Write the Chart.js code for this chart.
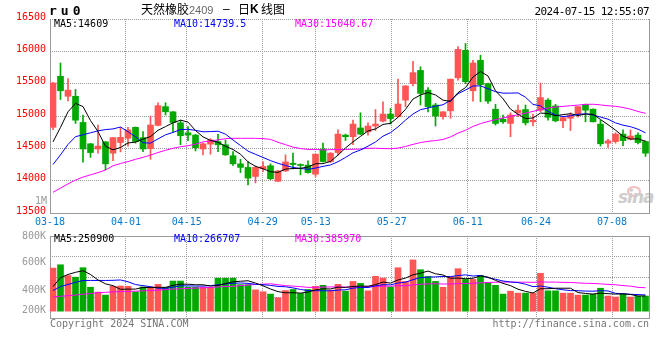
<!DOCTYPE html>
<html><head><meta charset="utf-8">
<script src="https://cdn.jsdelivr.net/npm/chart.js@4.4.1/dist/chart.umd.min.js"></script>
<style>
html,body{margin:0;padding:0;background:#fff;}
#wrap{position:relative;width:660px;height:360px;overflow:hidden;background:#fff;}
canvas{position:absolute;left:0;}
.m{position:absolute;white-space:pre;font-family:'DejaVu Sans Mono',monospace;font-size:10px;line-height:12px;}
.c{position:absolute;white-space:pre;font-family:'Noto Sans CJK SC',sans-serif;font-size:12px;line-height:14px;color:#000;}
</style></head><body>
<div id="wrap">
<div style="position:absolute;left:627px;top:186px;width:10px;height:7px;border:2px solid #f4bcbc;border-radius:50%;"></div>
<div style="position:absolute;left:618px;top:188px;font:italic bold 17px 'DejaVu Sans';color:#cdcdcd;letter-spacing:-1px;line-height:18px;">sina</div>
<canvas id="pc" width="660" height="232" style="top:0"></canvas>
<canvas id="vc" width="660" height="134" style="top:226px"></canvas>

<div class="m" style="left:49px;top:4px;font-size:13px;line-height:14px;font-weight:bold;letter-spacing:4px;">ru0</div>
<div class="c" style="left:141px;top:2px;">天然橡胶</div>
<div style="position:absolute;left:189px;top:3px;font:11px 'Liberation Sans';line-height:14px;color:#666;">2409</div>
<div style="position:absolute;left:223px;top:2px;font:12px 'Liberation Sans';line-height:14px;color:#000;">–</div>
<div class="c" style="left:238px;top:2px;">日</div>
<div style="position:absolute;left:250px;top:2px;font:bold 12px 'Liberation Sans';line-height:14px;color:#000;">K</div>
<div class="c" style="left:261px;top:2px;">线图</div>
<div class="m" style="right:11px;top:6px;font-size:11px;letter-spacing:-0.6px;color:#000;">2024-07-15 12:55:07</div>

<div class="m" id="lp0" style="left:54px;top:18px;color:#000;"></div>
<div class="m" id="lp1" style="left:174px;top:18px;color:#0000ff;"></div>
<div class="m" id="lp2" style="left:295px;top:18px;color:#ff00ff;"></div>
<div class="m" style="right:613px;top:195px;color:#999;">1M</div>

<div class="m" id="lv0" style="left:54px;top:233px;color:#000;"></div>
<div class="m" id="lv1" style="left:174px;top:233px;color:#0000ff;"></div>
<div class="m" id="lv2" style="left:295px;top:233px;color:#ff00ff;"></div>

<div class="m" style="left:50px;top:318px;color:#777;">Copyright 2024 SINA.COM</div>
<div class="m" style="right:11px;top:318px;color:#777;">http://finance.sina.com.cn</div>
</div>
<script>
// ---------------- data ----------------
const categories = ['03-18','03-19','03-20','03-21','03-22','03-25','03-26','03-27','03-28','03-29',
 '04-01','04-02','04-03','04-08','04-09','04-10','04-11','04-12','04-15','04-16','04-17','04-18','04-19','04-22','04-23','04-24','04-25','04-26','04-29','04-30',
 '05-06','05-07','05-08','05-09','05-10','05-13','05-14','05-15','05-16','05-17','05-20','05-21','05-22','05-23','05-24','05-27','05-28','05-29','05-30','05-31',
 '06-03','06-04','06-05','06-06','06-07','06-11','06-12','06-13','06-14','06-17','06-18','06-19','06-20','06-21','06-24','06-25','06-26','06-27','06-28',
 '07-01','07-02','07-03','07-04','07-05','07-08','07-09','07-10','07-11','07-12','07-15'];
const dateLabels = ['03-18','04-01','04-15','04-29','05-13','05-27','06-11','06-24','07-08'];
const priceTickStep = 500;
const priceMin = 13500, priceMax = 16500;
const volTickLabels = ['200K','400K','600K','800K'];
const priceLegend = ['MA5:14609','MA10:14739.5','MA30:15040.67'];
const volLegend = ['MA5:250900','MA10:266707','MA30:385970'];

const openP = [14825,15615,15305,15305,14900,14570,14490,14600,14425,14590,
 14655,14825,14665,14495,14855,15145,15065,14895,14740,14705,
 14490,14565,14605,14555,14385,14260,14205,14065,14185,14230,
 13990,14150,14270,14250,14240,14100,14490,14295,14435,14705,
 14680,14815,14755,14845,14920,15030,14990,15245,15500,15705,
 15400,15170,14990,15080,15590,16015,15390,15860,15500,15105,
 14950,14885,15050,15100,14910,15090,15245,15155,14925,14965,
 15030,15180,15105,14875,14580,14605,14720,14640,14705,14605];
const highP = [15520,15820,15580,15410,15015,14575,14860,14605,14670,14825,
 14825,14830,14760,15000,15205,15205,15070,14935,14835,14715,
 14580,14650,14715,14630,14450,14330,14295,14230,14290,14260,
 14160,14400,14425,14260,14305,14410,14580,14435,14785,14720,
 14935,15050,14895,15100,15220,15115,15570,15470,15845,15760,
 15440,15195,15070,15570,16075,16120,15860,15940,15510,15180,
 15015,15050,15170,15170,15030,15510,15270,15180,14975,15050,
 15145,15185,15110,14935,14640,14740,14785,14785,14740,14615];
const lowP = [14790,15255,15235,14885,14285,14360,14425,14165,14310,14445,
 14535,14580,14450,14330,14845,15015,14750,14555,14620,14460,
 14400,14410,14450,14390,14235,14125,13935,13965,14140,14015,
 13985,14140,14180,14090,14115,14065,14285,14280,14400,14620,
 14555,14710,14705,14775,14910,14875,14980,15145,15465,15170,
 15065,14845,14950,14965,15555,15500,15230,15220,15195,14860,
 14885,14680,14990,14860,14845,15065,14935,14910,14820,14775,
 14980,14910,14910,14535,14515,14580,14540,14630,14570,14375];
const closeP = [15510,15390,15400,14935,14490,14435,14535,14260,14665,14670,
 14785,14605,14490,14860,15160,15065,14900,14695,14705,14510,
 14570,14630,14555,14400,14260,14205,14040,14205,14220,14030,
 14150,14290,14250,14235,14125,14410,14295,14425,14720,14680,
 14875,14720,14845,14875,15030,14960,15185,15465,15670,15350,
 15145,15000,15065,15570,16030,15530,15820,15485,15230,14885,
 14910,15015,15090,14895,14935,15285,14980,14925,14975,15015,
 15145,15090,14910,14570,14615,14720,14620,14690,14590,14425];
const ma5 = [14600,14825,15065,15195,15146,14930,14760,14532,14477,14513,
 14583,14596,14643,14682,14779,14836,14895,14936,14906,14776,
 14677,14622,14594,14532,14482,14409,14291,14221,14185,14139,
 14128,14179,14188,14191,14211,14262,14263,14298,14395,14506,
 14600,14685,14769,14800,14870,14886,14979,15103,15262,15325,
 15362,15325,15245,15225,15362,15439,15603,15687,15619,15390,
 15267,15106,15027,14960,14970,15045,15038,15005,15021,15036,
 15007,15030,15027,14946,14866,14782,14687,14643,14647,14609];
const ma10 = [14250,14400,14560,14680,14710,14740,14770,14790,14800,14830,
 14757,14678,14587,14580,14646,14709,14746,14790,14794,14778,
 14756,14759,14765,14719,14629,14543,14457,14407,14359,14310,
 14269,14235,14205,14188,14175,14195,14221,14243,14293,14359,
 14431,14474,14534,14598,14688,14743,14832,14936,15031,15098,
 15124,15152,15174,15243,15344,15401,15464,15466,15422,15376,
 15353,15354,15357,15290,15180,15156,15072,15016,14990,15003,
 15026,15034,15016,14983,14951,14894,14858,14835,14796,14740];
const ma30 = [13820,13885,13950,14010,14055,14090,14125,14165,14230,14265,
 14295,14330,14360,14395,14435,14470,14500,14525,14540,14565,
 14600,14615,14630,14650,14655,14655,14655,14655,14650,14639,
 14594,14557,14519,14496,14483,14483,14474,14480,14482,14482,
 14485,14489,14501,14502,14497,14494,14503,14529,14561,14589,
 14608,14620,14637,14676,14735,14780,14839,14882,14915,14944,
 14969,14993,15021,15044,15071,15100,15123,15139,15148,15159,
 15168,15180,15182,15172,15158,15150,15132,15106,15070,15041];
// volume in thousands of lots
const volume = [710,764,587,560,716,394,314,265,410,415,
 410,319,399,399,442,394,496,496,394,394,
 394,394,544,544,544,437,437,351,319,281,
 222,340,357,292,357,410,426,346,442,330,
 490,458,335,574,544,399,716,490,844,683,
 571,490,394,571,699,523,523,587,474,426,
 281,330,297,297,297,624,335,335,297,297,
 265,265,281,378,249,233,281,233,249,249];
const vma5 = [405,550,605,640,667,604,514,450,420,360,
 363,364,391,388,394,391,426,445,444,435,
 435,414,424,454,484,493,501,463,418,365,
 322,303,304,298,314,351,368,366,396,391,
 407,413,411,437,480,462,514,545,599,626,
 661,616,596,542,545,535,542,581,561,507,
 458,420,362,326,300,369,370,378,378,378,
 306,292,281,297,288,281,284,275,249,251];
const vma10 = [340,405,440,475,505,506,506,506,508,514,
 484,439,420,404,377,377,395,418,416,414,
 413,420,435,449,459,464,458,443,436,425,
 407,402,383,358,339,337,336,335,347,352,
 379,391,389,417,436,434,463,478,518,553,
 561,565,571,570,586,598,579,589,552,526,
 497,481,471,444,404,414,395,370,352,339,
 337,331,329,337,333,294,288,278,273,267];
const vma30 = [235,245,255,265,280,290,305,310,318,322,
 325,330,335,340,345,355,365,370,375,380,
 385,390,400,405,410,420,430,440,445,451,
 435,420,413,404,392,392,396,399,400,397,
 400,404,402,408,411,412,419,419,434,443,
 449,452,447,448,454,456,459,467,472,477,
 479,479,477,477,475,482,479,479,474,473,
 465,459,457,450,441,435,421,412,392,386];

// ---------------- style / layout ----------------
const RED = '#ff5555', GREEN = '#00a800';
const GRID = '#9a9a9a', BORDER = '#999999';
Chart.defaults.font.family = "'DejaVu Sans Mono', monospace";
Chart.defaults.font.size = 10;

['lp0','lp1','lp2'].forEach((id,k)=>document.getElementById(id).textContent = priceLegend[k]);
['lv0','lv1','lv2'].forEach((id,k)=>document.getElementById(id).textContent = volLegend[k]);

const N = categories.length;
const PX = 7.5;                 // pixels per trading day
const xMin = -0.4, xMax = xMin + 599 / PX;
// Sina places date grid lines on a slightly different pitch than the candles
const gridValue = i => (i * 600 / (N - 1) - 3) / PX;
const tickVals = dateLabels.map(l => gridValue(categories.indexOf(l)));
const colors = closeP.map((c, i) => c >= openP[i] ? RED : GREEN);
const idx = categories.map((_, i) => i);
const pts = arr => arr.map((v, i) => ({x: i, y: v}));
const NOGRID = {display: false, drawTicks: false, offset: false};

// dotted grid drawn at the scales' own tick positions (1px dots, Sina style)
const dotGrid = {
  id: 'dotGrid',
  beforeDatasetsDraw(chart, args, opts) {
    const {ctx, chartArea: a} = chart;
    const ys = chart.scales[opts.yScale], xs = chart.scales.x;
    const L = Math.round(a.left), R = Math.round(a.right), T = Math.round(a.top), B = Math.round(a.bottom);
    ctx.save();
    ctx.fillStyle = opts.color;
    ys.ticks.forEach(t => {
      const y = Math.round(ys.getPixelForValue(t.value) - 0.5);
      for (let x = L; x <= R; x += 2) ctx.fillRect(x, y, 1, 1);
    });
    xs.ticks.forEach(t => {
      const x = Math.round(xs.getPixelForValue(t.value) - 0.5);
      for (let y = T; y <= B; y += 2) ctx.fillRect(x, y, 1, 1);
    });
    ctx.restore();
  }
};

function xAxis(showLabels, height) {
  return {
    type: 'linear', min: xMin, max: xMax, offset: false, bounds: 'data',
    afterBuildTicks: s => { s.ticks = tickVals.map(v => ({value: v})); },
    ticks: {display: showLabels, autoSkip: false, maxRotation: 0, padding: 3,
            color: '#0a78c8', callback: (v, i) => dateLabels[i]},
    grid: NOGRID,
    border: {display: true, color: BORDER},
    afterFit: s => { s.height = height; }
  };
}
function lineDs(arr, color) {
  return {type: 'line', data: pts(arr), borderColor: color, borderWidth: 1,
          pointRadius: 0, tension: 0, fill: false, order: 0};
}
function common(yScale) {
  return {
    responsive: false, animation: false, events: [],
    plugins: {legend: {display: false}, tooltip: {enabled: false},
              dotGrid: {color: GRID, yScale: yScale}}
  };
}

// ---- price chart ----
new Chart(document.getElementById('pc'), {
  type: 'bar',
  plugins: [dotGrid],
  data: {datasets: [
    lineDs(ma5, '#000000'), lineDs(ma10, '#0000ff'), lineDs(ma30, '#ff00ff'),
    {data: idx.map(i => ({x: i, y: [lowP[i], highP[i]]})), backgroundColor: colors,
     barThickness: 1, grouped: false, order: 2, borderWidth: 0},
    {data: idx.map(i => ({x: i, y: [openP[i], closeP[i]]})), backgroundColor: colors,
     barThickness: 6, minBarLength: 1, grouped: false, order: 1, borderWidth: 0}
  ]},
  options: Object.assign(common('y'), {
    layout: {padding: {top: 19, right: 11, left: 0, bottom: 0}},
    scales: {
      x: xAxis(true, 19),
      y: {min: priceMin, max: priceMax, beginAtZero: false,
          ticks: {stepSize: priceTickStep, color: '#ff0000', padding: 4, labelOffset: -2,
                  callback: v => String(v)},
          grid: NOGRID,
          border: {display: true, color: BORDER},
          afterFit: s => { s.width = 50; }},
      yr: {position: 'right', min: priceMin, max: priceMax,
           ticks: {display: false}, grid: NOGRID,
           border: {display: true, color: BORDER}, afterFit: s => { s.width = 0; }}
    }
  })
});

// ---- volume chart ----
const VK = 16.08;               // thousand lots per pixel
const vMin = -7 * VK, vMax = 77 * VK;
new Chart(document.getElementById('vc'), {
  type: 'bar',
  plugins: [dotGrid],
  data: {datasets: [
    lineDs(vma5, '#000000'), lineDs(vma10, '#0000ff'), lineDs(vma30, '#ff00ff'),
    {data: pts(volume), backgroundColor: colors, barThickness: 6, grouped: false,
     order: 1, borderWidth: 0}
  ]},
  options: Object.assign(common('y'), {
    layout: {padding: {top: 8, right: 11, left: 0, bottom: 0}},
    scales: {
      x: xAxis(false, 42),
      xt: {type: 'linear', position: 'top', min: xMin, max: xMax,
           ticks: {display: false}, grid: NOGRID,
           border: {display: true, color: BORDER}, afterFit: s => { s.height = 0; }},
      y: {min: vMin, max: vMax, weight: 0,
          afterBuildTicks: s => { s.ticks = [1,2,3].map(k => ({value: vMin + k * (vMax - vMin) / 4})); },
          ticks: {display: false}, grid: NOGRID,
          border: {display: true, color: BORDER},
          afterFit: s => { s.width = 0; }},
      yl: {position: 'left', weight: 1, min: 0, max: 84,
           afterBuildTicks: s => { s.ticks = [8, 28, 57, 84].map(v => ({value: v})); },
           ticks: {color: '#999999', padding: 4, callback: (v, i) => volTickLabels[i]},
           grid: NOGRID, border: {display: false},
           afterFit: s => { s.width = 50; }},
      yr: {position: 'right', min: vMin, max: vMax,
           ticks: {display: false}, grid: NOGRID,
           border: {display: true, color: BORDER}, afterFit: s => { s.width = 0; }}
    }
  })
});
</script>
</body></html>
